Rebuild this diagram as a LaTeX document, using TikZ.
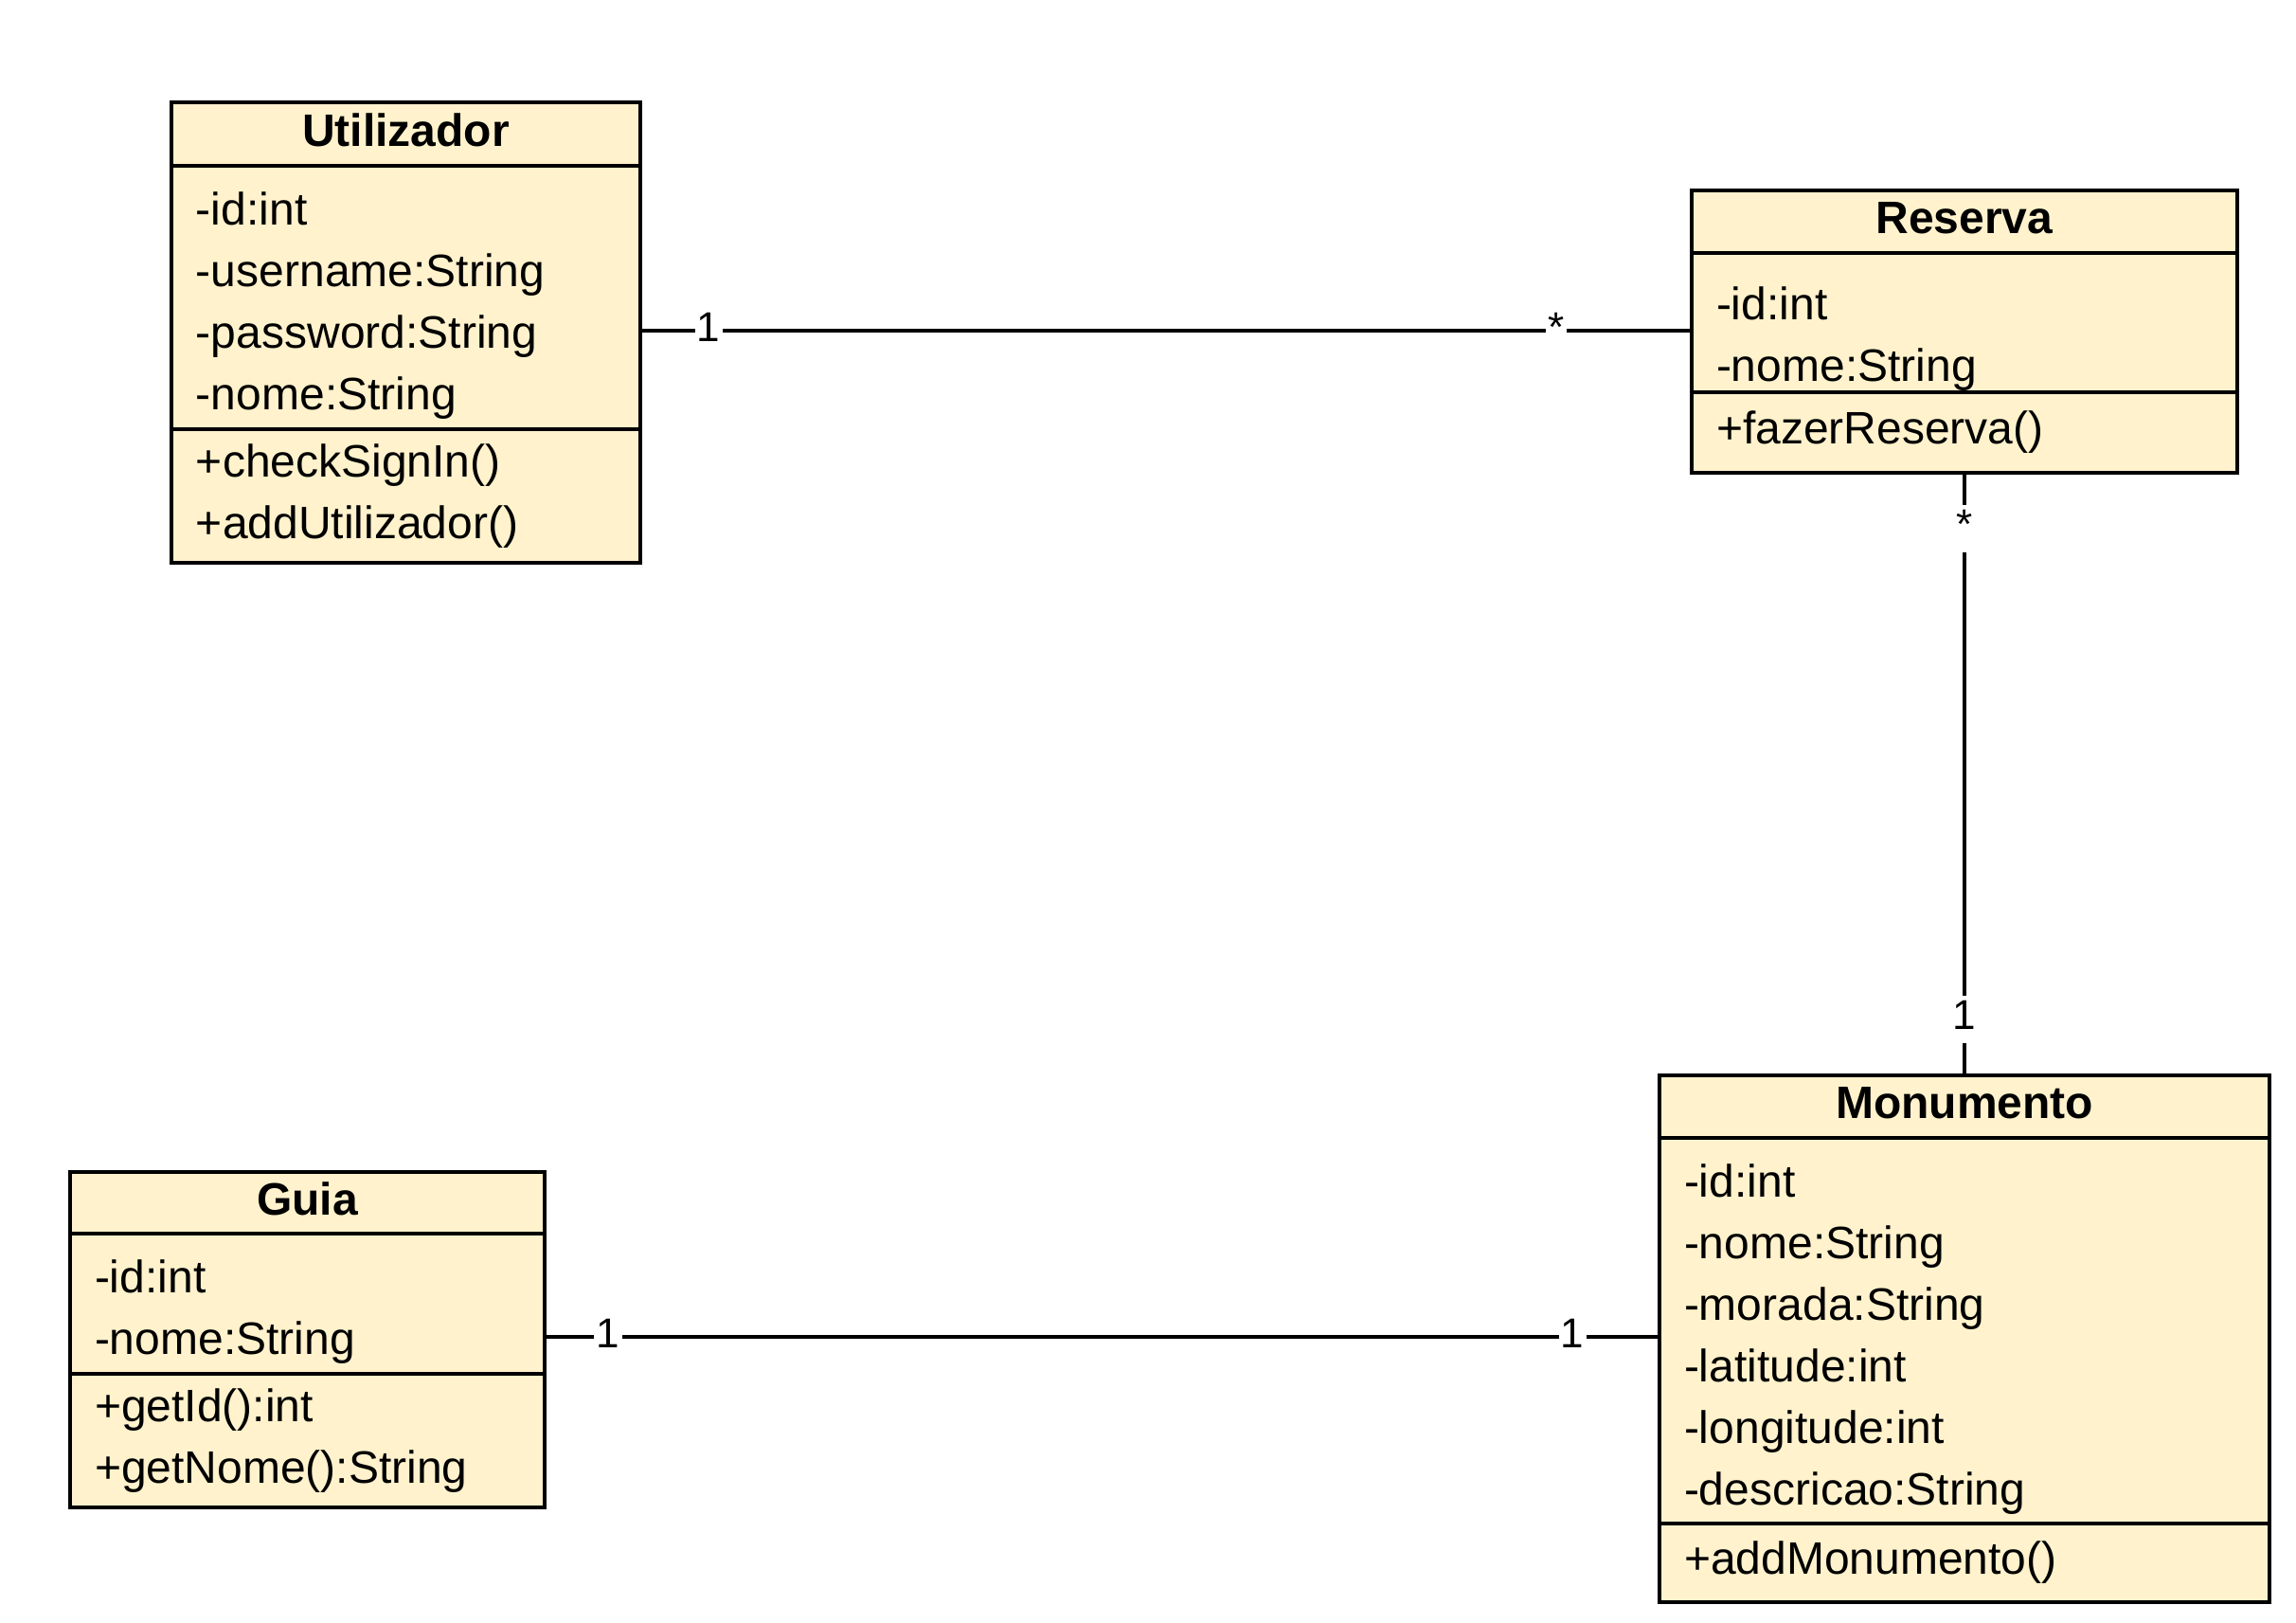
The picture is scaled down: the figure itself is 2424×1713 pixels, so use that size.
\documentclass[tikz,border=0pt]{standalone}
\usepackage{fontspec}
\setmainfont{Liberation Sans}
\usepackage{tikz}
\usetikzlibrary{positioning}
\definecolor{classfill}{HTML}{FFF2CC}

\tikzset{
    classe/.style={
        draw,
        line width=1pt,
        fill=classfill,
        inner xsep=6.5pt,
        inner ysep=0pt,
        outer sep=0pt,
        anchor=north west,
        font=\fontsize{12}{16.25}\selectfont
    },
    titulo/.style={
        classe,
        align=center,
        text depth=2pt,
        font=\bfseries\fontsize{12}{16.25}\selectfont
    },
    membros/.style={
        classe,
        align=left
    },
    atributos/.style={
        membros,
        execute at begin node={\rule{0pt}{#1}}
    },
    atributos/.default=13pt,
    assoc/.style={
        line width=1pt
    },
    mult/.style={
        fill=white,
        inner xsep=0.6pt,
        inner ysep=1pt,
        text height=8pt,
        text depth=2.5pt,
        font=\fontsize{11}{11}\selectfont
    }
}

\begin{document}
\begin{tikzpicture}[x=0.25pt, y=-0.25pt]

\useasboundingbox (0,0) rectangle (2424,1713);

% ---------------- UTILIZADOR ----------------

\node[titulo, text width=110.75pt, minimum height=16.75pt]
    (utilizador) at (181,108) {Utilizador};

\node[atributos, text width=110.75pt, minimum height=69.5pt]
    (utilizador-attr) at (utilizador.south west)
    {-id:int\\-username:String\\-password:String\\-nome:String};

\node[membros, text width=110.75pt, minimum height=35.25pt]
    (utilizador-ops) at (utilizador-attr.south west)
    {+checkSignIn()\\+addUtilizador()};


% ---------------- RESERVA ----------------

\node[titulo, text width=131pt, minimum height=16.5pt]
    (reserva) at (1786,201) {Reserva};

\node[atributos=17pt, text width=131pt, minimum height=36.75pt]
    (reserva-attr) at (reserva.south west)
    {-id:int\\-nome:String};

\node[membros, text width=131pt, minimum height=21.25pt]
    (reserva-ops) at (reserva-attr.south west)
    {+fazerReserva()};


% ---------------- MONUMENTO ----------------

\node[titulo, text width=148pt, minimum height=16.5pt]
    (monumento) at (1752,1135) {Monumento};

\node[atributos, text width=148pt, minimum height=101.75pt]
    (monumento-attr) at (monumento.south west)
    {-id:int\\-nome:String\\-morada:String\\-latitude:int\\-longitude:int\\-descricao:String};

\node[membros, text width=148pt, minimum height=20.75pt]
    (monumento-ops) at (monumento-attr.south west)
    {+addMonumento()};


% ---------------- GUIA ----------------

\node[titulo, text width=112.25pt, minimum height=16.25pt]
    (guia) at (74,1237) {Guia};

\node[atributos, text width=112.25pt, minimum height=37pt]
    (guia-attr) at (guia.south west)
    {-id:int\\-nome:String};

\node[membros, text width=112.25pt, minimum height=35.25pt]
    (guia-ops) at (guia-attr.south west)
    {+getId():int\\+getNome():String};


% ---------------- ASSOCIACOES ----------------

\coordinate (linha1) at (0,349);
\coordinate (linha3) at (0,1411);

\draw[assoc] (utilizador-attr.east |- linha1)
    -- node[mult, pos=0.065] {1}
       node[mult, pos=0.871] {*}
    (reserva-attr.west |- linha1);

\draw[assoc] (reserva-ops.south)
    -- node[mult, pos=0.092] {*}
       node[mult, pos=0.907] {1}
    (monumento.north);

\draw[assoc] (guia-attr.east |- linha3)
    -- node[mult, pos=0.057] {1}
       node[mult, pos=0.922] {1}
    (monumento-attr.west |- linha3);

\end{tikzpicture}
\end{document}
